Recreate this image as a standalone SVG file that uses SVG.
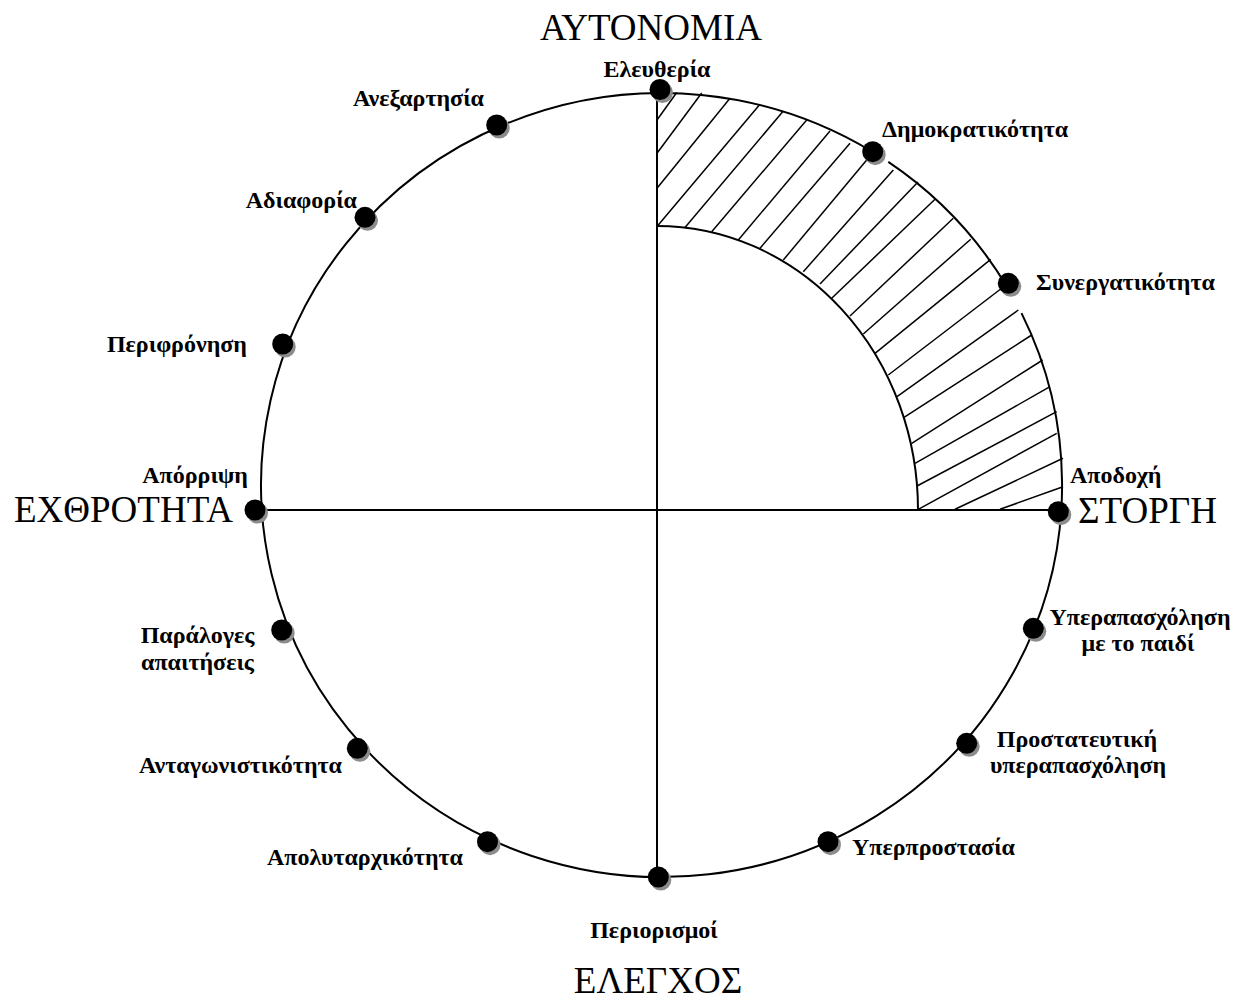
<svg xmlns="http://www.w3.org/2000/svg" width="1242" height="1001" viewBox="0 0 1242 1001">
<defs>
<style>
.lbl{font-family:"Liberation Serif","Times New Roman",serif;font-weight:bold;font-size:24px;fill:#000}
.big{font-family:"Liberation Serif","Times New Roman",serif;font-size:37px;fill:#000}
.ln{stroke:#000;stroke-width:2;fill:none}
.ht{stroke:#000;stroke-width:1.5;fill:none}
.sh{fill:#8c8c8c}
.dt{fill:#000}
</style>
<g id="dot"><circle class="sh" cx="2.5" cy="3" r="10.5"/><circle class="dt" cx="0" cy="0" r="10.5"/></g>
</defs>
<rect width="1242" height="1001" fill="#fff"/>
<g id="connectors">
<path class="ln" d="M1008.3,289 A400.5,392 0 0 0 888.3,161.9"/>
<path class="ln" d="M872,151.5 A400.5,392 0 1 0 1021.5,313.1"/>
<line class="ln" x1="657" y1="90" x2="657" y2="877"/>
<line class="ln" x1="255" y1="510" x2="1058" y2="510"/>
<path class="ln" d="M657,226 A261,284 0 0 1 918,510"/>
<g id="hatch">
<line class="ht" x1="657" y1="120" x2="676.7" y2="92.5"/>
<line class="ht" x1="657" y1="153.3" x2="701.7" y2="93"/>
<line class="ht" x1="657" y1="188.3" x2="730" y2="98.3"/>
<line class="ht" x1="657" y1="226.5" x2="760" y2="104.3"/>
<line class="ht" x1="685" y1="227.5" x2="783.3" y2="111"/>
<line class="ht" x1="711.7" y1="231.7" x2="806.7" y2="120"/>
<line class="ht" x1="738.3" y1="240" x2="830" y2="131"/>
<line class="ht" x1="760" y1="248.3" x2="850" y2="143.3"/>
<line class="ht" x1="783.3" y1="260" x2="866.7" y2="160"/>
<line class="ht" x1="803.3" y1="271.7" x2="893.3" y2="170"/>
<line class="ht" x1="820" y1="284" x2="918" y2="182"/>
<line class="ht" x1="831.7" y1="298.3" x2="935" y2="199.3"/>
<line class="ht" x1="850" y1="316" x2="953.3" y2="218.3"/>
<line class="ht" x1="863.3" y1="334" x2="970.7" y2="239.3"/>
<line class="ht" x1="875" y1="353.3" x2="990.7" y2="259.3"/>
<line class="ht" x1="888.3" y1="375" x2="1002" y2="288"/>
<line class="ht" x1="897" y1="396.7" x2="1018.3" y2="310"/>
<line class="ht" x1="904" y1="417.3" x2="1031.7" y2="335"/>
<line class="ht" x1="911.7" y1="443.3" x2="1042.7" y2="360"/>
<line class="ht" x1="915" y1="463.3" x2="1050" y2="386.7"/>
<line class="ht" x1="917" y1="486" x2="1056.7" y2="411.7"/>
<line class="ht" x1="918.3" y1="509.3" x2="1056.7" y2="433.3"/>
<line class="ht" x1="955" y1="509.3" x2="1063" y2="458.3"/>
<line class="ht" x1="1000" y1="509.3" x2="1063" y2="486.7"/>
</g>
</g>
<g id="axis-labels">
<text class="big" x="651" y="40" text-anchor="middle" font-size="38">ΑΥΤΟΝΟΜΙΑ</text>
<text class="big" x="14" y="522" font-size="35">ΕΧΘΡΟΤΗΤΑ</text>
<text class="big" x="1078" y="523" font-size="38">ΣΤΟΡΓΗ</text>
<text class="big" x="658" y="993" text-anchor="middle" font-size="36">ΕΛΕΓΧΟΣ</text>
</g>
<g id="n-eleftheria"><use href="#dot" x="660" y="89.5"/><text class="lbl" x="657" y="77" text-anchor="middle">Ελευθερία</text></g>
<g id="n-dimokratikotita"><use href="#dot" x="872.7" y="151.7"/><text class="lbl" x="882" y="137">Δημοκρατικότητα</text></g>
<g id="n-synergatikotita"><use href="#dot" x="1008.3" y="283.3"/><text class="lbl" x="1036" y="290">Συνεργατικότητα</text></g>
<g id="n-apodochi"><use href="#dot" x="1058.3" y="511.7"/><text class="lbl" x="1070" y="483">Αποδοχή</text></g>
<g id="n-yperapascholisi"><use href="#dot" x="1033.3" y="628.3"/><text class="lbl" x="1140" y="625" text-anchor="middle">Υπεραπασχόληση</text><text class="lbl" x="1138" y="651" text-anchor="middle">με το παιδί</text></g>
<g id="n-prostateftiki"><use href="#dot" x="966.7" y="743.3"/><text class="lbl" x="1077" y="747" text-anchor="middle">Προστατευτική</text><text class="lbl" x="1078" y="773" text-anchor="middle">υπεραπασχόληση</text></g>
<g id="n-yperprostasia"><use href="#dot" x="828" y="841.7"/><text class="lbl" x="852" y="855">Υπερπροστασία</text></g>
<g id="n-periorismoi"><use href="#dot" x="658.3" y="877"/><text class="lbl" x="654" y="938" text-anchor="middle">Περιορισμοί</text></g>
<g id="n-apolytarchikotita"><use href="#dot" x="487.5" y="841.7"/><text class="lbl" x="463" y="865" text-anchor="end">Απολυταρχικότητα</text></g>
<g id="n-antagonistikotita"><use href="#dot" x="357.3" y="748.3"/><text class="lbl" x="342" y="773" text-anchor="end">Ανταγωνιστικότητα</text></g>
<g id="n-paraloges"><use href="#dot" x="281.7" y="630"/><text class="lbl" x="197.5" y="643" text-anchor="middle">Παράλογες</text><text class="lbl" x="197.5" y="670" text-anchor="middle">απαιτήσεις</text></g>
<g id="n-aporripsi"><use href="#dot" x="255" y="510"/><text class="lbl" x="248" y="483" text-anchor="end">Απόρριψη</text></g>
<g id="n-perifronisi"><use href="#dot" x="282.7" y="344"/><text class="lbl" x="247" y="352" text-anchor="end">Περιφρόνηση</text></g>
<g id="n-adiaforia"><use href="#dot" x="365" y="217.3"/><text class="lbl" x="357" y="208" text-anchor="end">Αδιαφορία</text></g>
<g id="n-anexartisia"><use href="#dot" x="496.7" y="125"/><text class="lbl" x="484" y="106" text-anchor="end">Ανεξαρτησία</text></g>
</svg>
